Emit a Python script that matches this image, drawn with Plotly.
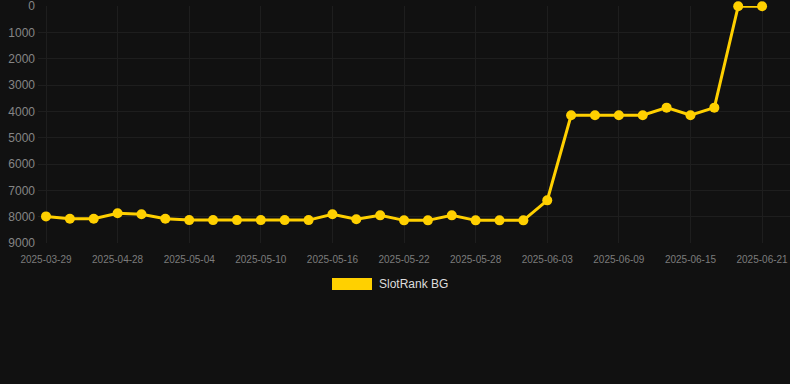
import plotly.graph_objects as go

dates = ["2025-03-29", "2025-04-24", "2025-04-26", "2025-04-28", "2025-04-30", "2025-05-02",
         "2025-05-04", "2025-05-06", "2025-05-08", "2025-05-10", "2025-05-12", "2025-05-14",
         "2025-05-16", "2025-05-18", "2025-05-20", "2025-05-22", "2025-05-24", "2025-05-26",
         "2025-05-28", "2025-05-30", "2025-06-01", "2025-06-03", "2025-06-05", "2025-06-07",
         "2025-06-09", "2025-06-11", "2025-06-13", "2025-06-15", "2025-06-17", "2025-06-19",
         "2025-06-21"]
rank = [7990, 8080, 8080, 7870, 7910, 8080, 8130, 8130, 8130, 8130, 8130, 8130,
        7910, 8100, 7950, 8140, 8140, 7950, 8140, 8140, 8140, 7380, 4150, 4150,
        4150, 4150, 3860, 4150, 3860, 10, 10]
tick_labels = dates[::3]
y_ticks = [0, 1000, 2000, 3000, 4000, 5000, 6000, 7000, 8000, 9000]
series_name = "SlotRank BG"
color = "#FFD000"

fig = go.Figure()
fig.add_trace(go.Scatter(
    x=dates, y=rank, mode="lines+markers", name=series_name,
    line=dict(color=color, width=3),
    marker=dict(color=color, size=10),
    cliponaxis=False, showlegend=False,
))

fig.update_layout(
    width=790, height=384,
    paper_bgcolor="#111111", plot_bgcolor="#111111",
    margin=dict(l=38, r=0, t=6, b=141),
    font=dict(family="Liberation Sans, Arial, sans-serif"),
    xaxis=dict(
        type="category", range=[-0.335, 31.17],
        tickmode="array", tickvals=tick_labels, ticktext=tick_labels,
        tickfont=dict(size=10, color="#7c7c7c"),
        showgrid=True, gridcolor="#1e1e1e", gridwidth=1,
        zeroline=False, showline=False, ticks="", ticklabelstandoff=9,
        ticklabeloverflow="allow",
    ),
    yaxis=dict(
        range=[9000, 0], tickmode="array", tickvals=y_ticks,
        tickfont=dict(size=12, color="#858585"),
        showgrid=True, gridcolor="#1e1e1e", gridwidth=1,
        zeroline=False, showline=False, ticks="", ticklabelstandoff=2,
        ticklabeloverflow="allow",
    ),
    shapes=[dict(type="rect", xref="paper", yref="paper",
                 x0=(332 - 38) / 752, x1=(372 - 38) / 752,
                 y0=(384 - 141 - 290) / 237, y1=(384 - 141 - 278) / 237,
                 fillcolor=color, line=dict(width=0))],
    annotations=[dict(text=series_name, xref="paper", yref="paper",
                      x=(377 - 38) / 752, y=(384 - 141 - 284) / 237,
                      xanchor="left", yanchor="middle", showarrow=False,
                      font=dict(size=12, color="#dddddd"))],
)

fig.write_html("out.html", config={"displayModeBar": False},
               post_script="document.body.style.margin='0';document.body.style.background='#111111';")
